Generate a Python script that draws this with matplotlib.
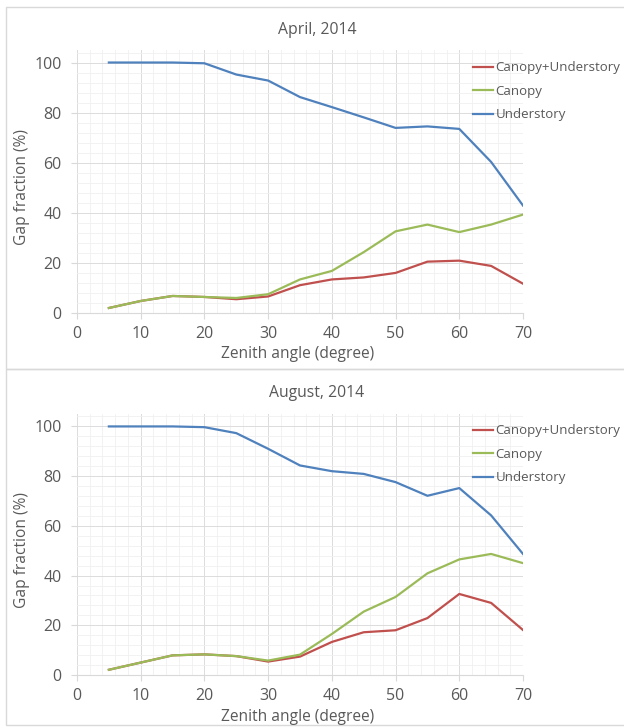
import matplotlib
matplotlib.use("Agg")
import matplotlib.pyplot as plt
from matplotlib.patches import Rectangle
from matplotlib.ticker import MultipleLocator

angles = [5, 10, 15, 20, 25, 30, 35, 40, 45, 50, 55, 60, 65, 70]

apr_both = [2.0, 4.8, 6.8, 6.4, 5.5, 6.6, 11.1, 13.4, 14.2, 16.0, 20.5, 20.9, 18.8, 11.7]
apr_canopy = [2.0, 4.8, 6.8, 6.4, 6.0, 7.5, 13.4, 16.8, 24.3, 32.6, 35.3, 32.3, 35.3, 39.3]
apr_under = [100, 100, 100, 99.7, 95.2, 92.8, 86.2, 82.2, 78.1, 73.9, 74.5, 73.5, 60.3, 42.9]

aug_both = [2.1, 5.0, 7.9, 8.3, 7.6, 5.4, 7.4, 13.3, 17.2, 18.0, 22.9, 32.6, 29.0, 18.1]
aug_canopy = [2.1, 5.0, 7.9, 8.3, 7.6, 5.8, 8.2, 16.5, 25.5, 31.4, 40.9, 46.5, 48.7, 45.0]
aug_under = [100, 100, 100, 99.7, 97.3, 91.0, 84.3, 82.0, 80.9, 77.6, 72.1, 75.2, 64.2, 48.7]

titles = ["April, 2014", "August, 2014"]
series_names = ["Canopy+Understory", "Canopy", "Understory"]
colors = ["#C0504D", "#9BBB59", "#4F81BD"]

plt.rcParams['font.family'] = ['Open Sans', 'DejaVu Sans']
txt = "#595959"

W, H = 624, 727
fig = plt.figure(figsize=(W / 100, H / 100), dpi=100)

def fx(px):
    return px / W

def fy(py):
    return 1 - py / H

panels = [
    dict(box=(6, 7, 369), plot=(77, 50, 523, 313), title_y=30, xlabel_y=354, ylabel_x=22,
         leg_y=56, data=(apr_both, apr_canopy, apr_under), title=titles[0]),
    dict(box=(6, 369, 725), plot=(77, 414, 523, 675), title_y=393, xlabel_y=717, ylabel_x=22,
         leg_y=419, data=(aug_both, aug_canopy, aug_under), title=titles[1]),
]

for p in panels:
    bx, btop, bbot = p["box"]
    fig.patches.append(Rectangle((fx(bx), fy(bbot)), fx(W - bx + 5), fy(btop) - fy(bbot),
                                 transform=fig.transFigure, fill=False,
                                 edgecolor="#D9D9D9", linewidth=1.0))
    l, t, r, b = p["plot"]
    ax = fig.add_axes([fx(l), fy(b), fx(r - l), fy(t) - fy(b)])
    for name, vals, c in zip(series_names, p["data"], colors):
        ax.plot(angles, vals, color=c, linewidth=1.6, label=name, zorder=3)
    ax.set_xlim(0, 70)
    ax.set_ylim(0, 105)
    ax.xaxis.set_major_locator(MultipleLocator(10))
    ax.xaxis.set_minor_locator(MultipleLocator(2))
    ax.yaxis.set_major_locator(MultipleLocator(20))
    ax.yaxis.set_minor_locator(MultipleLocator(4))
    ax.grid(which="major", color="#DCDCDC", linewidth=0.7)
    ax.grid(which="minor", color="#F0F0F0", linewidth=0.6)
    ax.set_axisbelow(True)
    for s in ["top", "right", "left"]:
        ax.spines[s].set_visible(False)
    ax.spines["bottom"].set_color("#D9D9D9")
    ax.tick_params(axis="y", which="major", length=4, color="#D9D9D9", labelcolor=txt,
                   labelsize=11.5, pad=7)
    ax.tick_params(axis="x", which="major", length=4, color="#D9D9D9", labelcolor=txt,
                   labelsize=11.5, pad=5)
    ax.tick_params(which="minor", length=0)
    fig.text(fx(317), fy(p["title_y"]), p["title"], ha="center", va="center", fontsize=11.3, color=txt)
    fig.text(fx(298), fy(p["xlabel_y"]), "Zenith angle (degree)", ha="center", va="center",
             fontsize=11.2, color=txt)
    fig.text(fx(p["ylabel_x"]), fy((t + b) / 2 + 6), "Gap fraction (%)", ha="center", va="center",
             rotation=90, fontsize=11.2, color=txt)
    leg = ax.legend(loc="upper left", bbox_to_anchor=(fx(468), fy(p["leg_y"])),
                    bbox_transform=fig.transFigure, frameon=False, fontsize=9.5,
                    handlelength=1.5, handletextpad=0.2, labelspacing=0.8, borderaxespad=0)
    for tx in leg.get_texts():
        tx.set_color(txt)

fig.savefig("out.png", dpi=100)
